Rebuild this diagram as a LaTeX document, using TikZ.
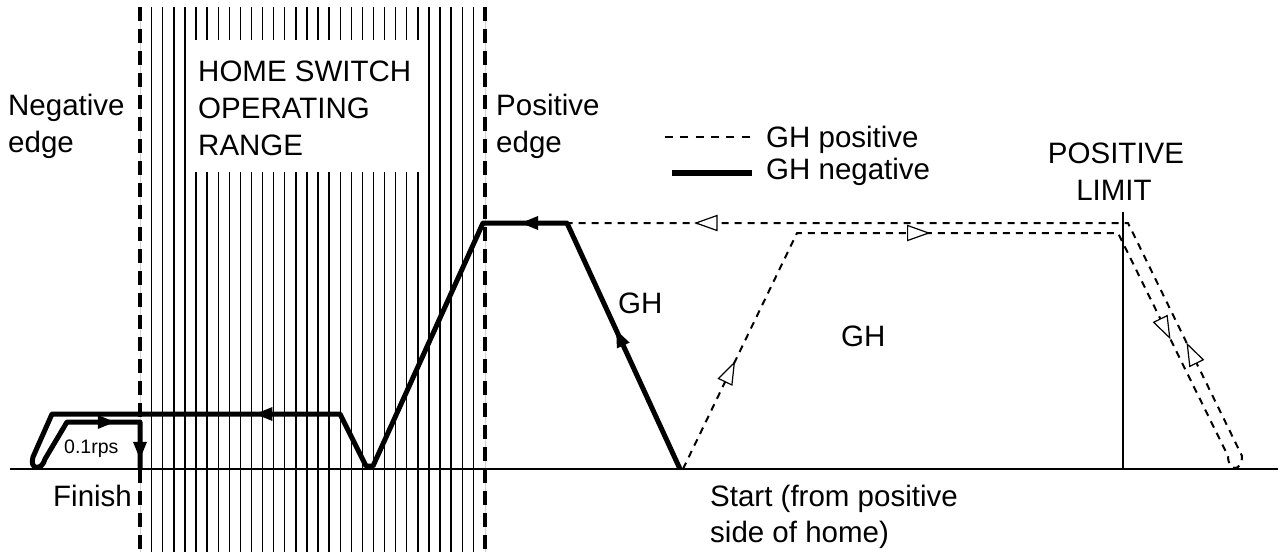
\documentclass[tikz,border=0pt]{standalone}
\usepackage{fontspec}
\setmainfont{Liberation Sans}
\usetikzlibrary{decorations.markings}
\tikzset{
  lbl/.style={font=\fontsize{29.5}{36}\selectfont, inner sep=0pt, anchor=base west},
  lblc/.style={font=\fontsize{29.5}{36}\selectfont, inner sep=0pt, anchor=base},
  small/.style={font=\fontsize{19.5}{22}\selectfont, inner sep=0pt, anchor=base west},
  negline/.style={line width=5pt, line join=round},
  posline/.style={line width=2pt, dash pattern=on 7pt off 6pt, line join=round},
  negtip/.style={decorate, decoration={markings, mark=at position #1 with {\fill[black] (4,0) -- (-13,7) -- (-13,-7) -- cycle;}}},
  postip/.style={decorate, decoration={markings, mark=at position #1 with {\draw[solid, fill=white, line width=1.2pt, line join=miter] (0,0) -- (-21,7.5) -- (-21,-7.5) -- cycle;}}},
  hatchline/.style={line width=1.4pt},
  edgeline/.style={line width=3.5pt, dash pattern=on 14pt off 8pt},
  guide/.style={line width=1pt, gray!35},
}
\begin{document}
\begin{tikzpicture}[x=1pt,y=-1pt]
\useasboundingbox (0,0) rectangle (1282,552);
\fill[white] (0,0) rectangle (1282,552);
% hatch of the home switch range
\foreach \i in {0,...,29} {
  \pgfmathsetmacro\hx{151.7+11.09*\i}
  \draw[hatchline] (\hx,7) -- (\hx,552);
}
\fill[white] (190,40) rectangle (424,172);
% edges
\coordinate (ne-top) at (140,7);
\coordinate (ne-bot) at (140,552);
\coordinate (pe-top) at (485,7);
\coordinate (pe-bot) at (485,552);
\draw[guide] (ne-top) -- (ne-bot);
\draw[guide] (pe-top) -- (pe-bot);
\draw[edgeline] (ne-top) -- (ne-bot);
\draw[edgeline] (pe-top) -- (pe-bot);
% base line and limit
\coordinate (bl) at (10,469);
\coordinate (br) at (1278,469);
\draw[line width=2pt] (bl) -- (br);
\coordinate (lt) at (1123,212);
\coordinate (lb) at (1123,469);
\draw[line width=2pt] (lt) -- (lb);
% GH negative path
\coordinate (start) at (680,469);
\coordinate (n1) at (567,223);
\coordinate (n2) at (483,223);
\coordinate (vR) at (373,466);
\coordinate (vL) at (366,466);
\coordinate (n3) at (340,414);
\coordinate (n4) at (52,414);
\coordinate (n5) at (33,457);
\coordinate (n6) at (45,459);
\coordinate (n7) at (67,422);
\coordinate (n8) at (140,422);
\coordinate (fin) at (140,469);
\draw[negline] (start) -- (n1) -- (n2) -- (vR) -- (vL) -- (n3) -- (n4) -- (n5)
  .. controls (29,470) and (42,471) .. (n6) -- (n7) -- (n8) -- (fin);
\path[negtip=0.55] (start) -- (n1);
\path[negtip=0.5] (n1) -- (n2);
\path[negtip=0.28] (n3) -- (n4);
\path[negtip=0.6] (n7) -- (n8);
\path[negtip=0.7] (n8) -- (fin);
% GH positive path
\coordinate (p0) at (683,469);
\coordinate (p1) at (797,233);
\coordinate (p2) at (1118,233);
\coordinate (p3) at (1228,456);
\coordinate (p4) at (1242,456);
\coordinate (p5) at (1128,223);
\draw[posline] (p0) -- (p1) -- (p2) -- (p3) .. controls (1228,472) and (1242,472) .. (p4) -- (p5) -- (n1);
\path[postip=0.45] (p0) -- (p1);
\path[postip=0.41] (p1) -- (p2);
\path[postip=0.47] (p2) -- (p3);
\path[postip=0.48] (p4) -- (p5);
\path[postip=0.77] (p5) -- (n1);
% legend
\coordinate (lgp1) at (665,137);
\coordinate (lgp2) at (752,137);
\coordinate (lgn1) at (672,173);
\coordinate (lgn2) at (752,173);
\draw[line width=2pt, dash pattern=on 8pt off 7.3pt] (lgp1) -- (lgp2);
\draw[line width=6pt] (lgn1) -- (lgn2);
\node[lbl] (lgpt) at (766,147) {GH positive};
\node[lbl] (lgnt) at (766,179) {GH negative};
% labels
\node[lbl] (neg1) at (8,115) {Negative};
\node[lbl] (neg2) at (8,152) {edge};
\node[lbl] (posE1) at (496,115) {Positive};
\node[lbl] (posE2) at (496,152) {edge};
\node[lbl] (hs1) at (198,81.7) {HOME SWITCH};
\node[lbl] (hs2) at (198,118.3) {OPERATING};
\node[lbl] (hs3) at (198,155) {RANGE};
\node[lblc] (pl1) at (1116,163) {POSITIVE};
\node[lblc] (pl2) at (1114,200) {LIMIT};
\node[lbl] (gh1) at (618,313) {GH};
\node[lbl] (gh2) at (841,346) {GH};
\node[lbl] (st1) at (710,506) {Start (from positive};
\node[lbl] (st2) at (710,542) {side of home)};
\node[lbl] (finish) at (53,506.7) {Finish};
\node[small] (rps) at (64,453) {0.1rps};
\end{tikzpicture}
\end{document}
